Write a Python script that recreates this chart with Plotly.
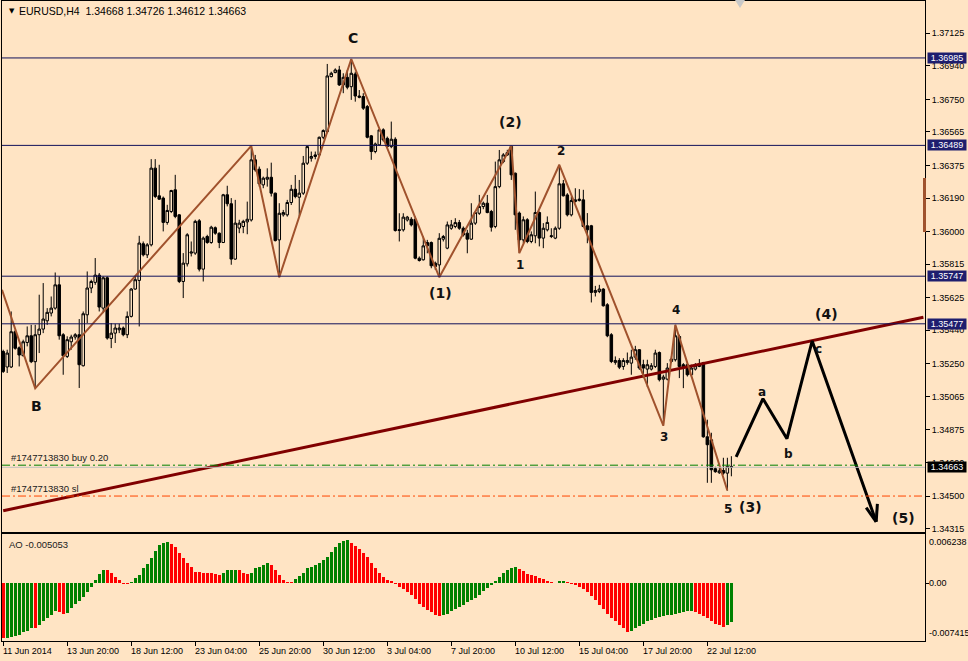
import plotly.graph_objects as go

BG = "#FFE4C4"

# ---------------- data (EURUSD H4) ----------------
open_ = [1.35320,1.35232,1.35232,1.35432,1.35341,1.35296,1.35371,1.35409,1.35262,1.35415,
 1.35447,1.35494,1.35538,1.35566,1.35698,1.35415,1.35292,1.35375,1.35402,1.35415,
 1.35239,1.35528,1.35680,1.35712,1.35753,1.35566,1.35738,1.35394,1.35424,1.35443,
 1.35453,1.35415,1.35519,1.35674,1.35723,1.35931,1.35868,1.35925,1.36360,1.36203,
 1.36190,1.36052,1.36114,1.36237,1.36095,1.35717,1.35817,1.35878,1.35878,1.36061,
 1.35787,1.35972,1.35938,1.36022,1.35991,1.35938,1.36209,1.36158,1.35844,1.36020,
 1.36029,1.36055,1.36066,1.36407,1.36354,1.36265,1.36297,1.36308,1.36218,1.35953,
 1.36095,1.36095,1.36165,1.36240,1.36195,1.36218,1.36388,1.36416,1.36426,1.36435,
 1.36535,1.36567,1.36879,1.36902,1.36917,1.36832,1.36875,1.36822,1.36894,1.36769,
 1.36766,1.36709,1.36543,1.36454,1.36492,1.36577,1.36529,1.36482,1.36524,1.36006,
 1.36010,1.36066,1.36070,1.36070,1.35849,1.35840,1.35938,1.35938,1.35821,1.35811,
 1.35957,1.35906,1.36019,1.36029,1.36051,1.36019,1.35991,1.35957,1.36048,1.36104,
 1.36142,1.36161,1.36114,1.36029,1.36255,1.36397,1.36435,1.36483,1.36331,1.36105,
 1.35953,1.36067,1.35944,1.35976,1.36108,1.35963,1.36010,1.35972,1.35963,1.36019,
 1.36271,1.36208,1.36095,1.36171,1.36176,1.36180,1.36033,1.36033,1.35655,1.35660,
 1.35674,1.35585,1.35415,1.35258,1.35269,1.35235,1.35258,1.35254,1.35288,1.35330,
 1.35245,1.35220,1.35220,1.35235,1.35314,1.35163,1.35163,1.35263,1.35273,1.35405,
 1.35245,1.35245,1.35188,1.35220,1.35235,1.35256,1.34836,1.34819,1.34655,1.34632,
 1.34645,1.34630,1.34668]
high = [1.35330,1.35330,1.35547,1.35443,1.35349,1.35387,1.35462,1.35471,1.35471,1.35642,
 1.35708,1.35566,1.35632,1.35768,1.35746,1.35424,1.35406,1.35415,1.35424,1.35504,
 1.35547,1.35774,1.35727,1.35850,1.35765,1.35746,1.35746,1.35481,1.35477,1.35477,
 1.35462,1.35547,1.35680,1.35746,1.35976,1.35944,1.35935,1.36411,1.36411,1.36379,
 1.36199,1.36152,1.36237,1.36322,1.36099,1.35878,1.35991,1.35944,1.36067,1.36071,
 1.35972,1.35982,1.36033,1.36029,1.35995,1.36214,1.36260,1.36190,1.36180,1.36067,
 1.36067,1.36170,1.36486,1.36435,1.36369,1.36312,1.36359,1.36391,1.36221,1.36161,
 1.36123,1.36180,1.36265,1.36321,1.36293,1.36429,1.36486,1.36454,1.36454,1.36539,
 1.36580,1.36951,1.36907,1.36926,1.36940,1.36898,1.36917,1.36979,1.36907,1.36803,
 1.36785,1.36718,1.36548,1.36505,1.36580,1.36586,1.36539,1.36624,1.36535,1.36104,
 1.36104,1.36089,1.36082,1.36085,1.35859,1.35972,1.35953,1.35944,1.35830,1.35991,
 1.35981,1.36057,1.36066,1.36076,1.36066,1.36029,1.36010,1.36161,1.36114,1.36208,
 1.36170,1.36208,1.36123,1.36397,1.36463,1.36445,1.36464,1.36486,1.36335,1.36114,
 1.36086,1.36076,1.36001,1.36227,1.36114,1.36048,1.36086,1.36019,1.36029,1.36379,
 1.36293,1.36218,1.36199,1.36246,1.36241,1.36237,1.36105,1.36038,1.35692,1.35698,
 1.35679,1.35594,1.35424,1.35292,1.35282,1.35282,1.35314,1.35330,1.35352,1.35333,
 1.35273,1.35273,1.35254,1.35330,1.35320,1.35188,1.35254,1.35292,1.35471,1.35415,
 1.35254,1.35254,1.35245,1.35254,1.35277,1.35261,1.34933,1.34859,1.34666,1.34660,
 1.34717,1.34717,1.34726]
low = [1.35198,1.35198,1.35226,1.35330,1.35235,1.35292,1.35349,1.35254,1.35111,1.35311,
 1.35424,1.35471,1.35519,1.35557,1.35387,1.35188,1.35283,1.35330,1.35387,1.35113,
 1.35235,1.35481,1.35651,1.35698,1.35547,1.35538,1.35387,1.35339,1.35368,1.35424,
 1.35406,1.35396,1.35513,1.35670,1.35462,1.35859,1.35850,1.35916,1.36190,1.36180,
 1.36001,1.36039,1.36105,1.36076,1.35708,1.35623,1.35802,1.35859,1.35868,1.35774,
 1.35717,1.35931,1.35931,1.35982,1.35906,1.35935,1.36143,1.35812,1.35840,1.35991,
 1.35991,1.35985,1.36057,1.36340,1.36255,1.36246,1.36255,1.36199,1.35944,1.35741,
 1.36085,1.36085,1.36151,1.36189,1.36085,1.36208,1.36378,1.36397,1.36410,1.36426,
 1.36524,1.36558,1.36875,1.36898,1.36826,1.36785,1.36807,1.36747,1.36737,1.36756,
 1.36690,1.36529,1.36407,1.36444,1.36486,1.36511,1.36473,1.36473,1.36000,1.35944,
 1.36000,1.36057,1.36029,1.35843,1.35830,1.35836,1.35877,1.35792,1.35783,1.35741,
 1.35944,1.35900,1.36010,1.36019,1.36010,1.35972,1.35877,1.35953,1.36038,1.36095,
 1.36127,1.36104,1.36000,1.36019,1.36246,1.36388,1.36430,1.36293,1.36010,1.35878,
 1.35934,1.35934,1.35934,1.35934,1.35916,1.35906,1.36001,1.35963,1.35957,1.36010,
 1.36199,1.36086,1.36086,1.36165,1.36171,1.36025,1.35934,1.35598,1.35632,1.35651,
 1.35575,1.35401,1.35254,1.35245,1.35220,1.35216,1.35245,1.35188,1.35273,1.35216,
 1.35169,1.35118,1.35212,1.35226,1.35150,1.34899,1.35156,1.35254,1.35263,1.35169,
 1.35112,1.35178,1.35178,1.35212,1.35231,1.34831,1.34575,1.34575,1.34632,1.34626,
 1.34621,1.34531,1.34612]
close = [1.35207,1.35311,1.35432,1.35338,1.35300,1.35375,1.35409,1.35262,1.35415,1.35447,
 1.35504,1.35542,1.35566,1.35698,1.35409,1.35296,1.35387,1.35402,1.35415,1.35245,
 1.35534,1.35680,1.35717,1.35753,1.35572,1.35738,1.35396,1.35424,1.35453,1.35453,
 1.35415,1.35519,1.35674,1.35727,1.35935,1.35868,1.35925,1.36360,1.36199,1.36184,
 1.36052,1.36120,1.36233,1.36086,1.35717,1.35821,1.35982,1.35884,1.36058,1.35787,
 1.35963,1.35938,1.36025,1.35991,1.35938,1.36209,1.36158,1.35844,1.36048,1.36048,
 1.36058,1.36070,1.36407,1.36350,1.36271,1.36303,1.36308,1.36218,1.35949,1.36104,
 1.36108,1.36165,1.36240,1.36199,1.36218,1.36388,1.36482,1.36426,1.36435,1.36535,
 1.36573,1.36883,1.36898,1.36917,1.36832,1.36875,1.36819,1.36898,1.36769,1.36762,
 1.36700,1.36535,1.36454,1.36497,1.36577,1.36520,1.36482,1.36524,1.36006,1.36010,
 1.36082,1.36082,1.36038,1.35849,1.35836,1.35919,1.35919,1.35806,1.35802,1.35962,
 1.35972,1.36038,1.36038,1.36051,1.36019,1.35981,1.35957,1.36048,1.36108,1.36142,
 1.36161,1.36108,1.36025,1.36255,1.36407,1.36435,1.36448,1.36322,1.36095,1.35953,
 1.36067,1.35944,1.35982,1.36108,1.35963,1.36019,1.36052,1.35976,1.36019,1.36271,
 1.36203,1.36095,1.36176,1.36180,1.36184,1.36029,1.36010,1.35655,1.35666,1.35674,
 1.35579,1.35409,1.35263,1.35269,1.35231,1.35269,1.35269,1.35288,1.35330,1.35226,
 1.35226,1.35245,1.35239,1.35311,1.35160,1.35175,1.35226,1.35277,1.35409,1.35235,
 1.35231,1.35188,1.35226,1.35239,1.35245,1.34836,1.34791,1.34649,1.34638,1.34643,
 1.34630,1.34668,1.34663]

# Awesome Oscillator values
ao = [-0.0072,-0.0071,-0.0070,-0.0069,-0.0067,-0.0064,-0.0062,-0.0058,-0.0059,-0.0055,
 -0.0050,-0.0046,-0.0042,-0.0037,-0.0038,-0.0040,-0.0039,-0.0033,-0.0027,-0.0024,
 -0.0018,-0.0012,-0.0005,0.00039,0.00117,0.00169,0.00166,0.00134,0.00082,0.00039,
 -0.00005,-0.00013,0.00004,0.00061,0.00104,0.00191,0.00247,0.00320,0.00420,0.00494,
 0.00515,0.00533,0.00507,0.00463,0.00385,0.00320,0.00264,0.00204,0.00143,0.00142,
 0.00134,0.00126,0.00125,0.00117,0.00104,0.00134,0.00169,0.00170,0.00171,0.00168,
 0.00134,0.00117,0.00134,0.00191,0.00212,0.00234,0.00255,0.00234,0.00169,0.00104,
 0.00039,0.00004,0.00003,0.00048,0.00091,0.00134,0.00191,0.00212,0.00234,0.00264,
 0.00299,0.00342,0.00407,0.00463,0.00515,0.00550,0.00559,0.00524,0.00481,0.00437,
 0.00385,0.00333,0.00264,0.00191,0.00126,0.00074,0.00039,0.00017,-0.00013,-0.00048,
 -0.0008,-0.0012,-0.0016,-0.0021,-0.0027,-0.0031,-0.0035,-0.0038,-0.0041,-0.0043,
 -0.0042,-0.0040,-0.0037,-0.0034,-0.0031,-0.0028,-0.0025,-0.0022,-0.0019,-0.0015,
 -0.0011,-0.0007,-0.0003,0.0002,0.0008,0.0013,0.0017,0.0020,0.0021,0.0018,
 0.0015,0.0012,0.0010,0.0009,0.0007,0.0005,0.0003,0.0001,0.0000,0.0002,
 0.0003,0.0001,-0.0001,-0.0003,-0.0005,-0.0008,-0.0012,-0.0017,-0.0022,-0.0028,
 -0.0034,-0.0040,-0.0045,-0.0050,-0.0054,-0.0058,-0.0064,-0.0062,-0.0059,-0.0056,
 -0.0053,-0.0050,-0.0048,-0.0046,-0.0044,-0.0043,-0.0042,-0.0041,-0.0040,-0.0039,
 -0.0038,-0.0037,-0.0036,-0.0038,-0.0040,-0.0043,-0.0046,-0.0050,-0.0053,-0.0055,
 -0.0057,-0.0054,-0.005053]

time_labels = ["11 Jun 2014", "13 Jun 20:00", "18 Jun 12:00", "23 Jun 04:00", "25 Jun 20:00",
               "30 Jun 12:00", "3 Jul 04:00", "7 Jul 20:00", "10 Jul 12:00", "15 Jul 04:00",
               "17 Jul 20:00", "22 Jul 12:00"]
time_label_idx = [0, 16, 32, 48, 64, 80, 96, 112, 128, 144, 160, 176]

price_ticks = [1.37125, 1.36940, 1.36750, 1.36565, 1.36375, 1.36190, 1.36000, 1.35815,
               1.35625, 1.35440, 1.35250, 1.35065, 1.34875, 1.34690, 1.34500, 1.34315]

levels = [1.36985, 1.36489, 1.35747, 1.35477]
bid = 1.34663
buy_price = 1.34675
sl_price = 1.34500

# zigzag pivots (bar index, H/L)
zz_start = (-0.3, 1.35670)
zz_idx = [8, 62, 69, 87, 109, 127, 129, 139, 165, 168, 181]
zz_kind = ["L", "H", "L", "H", "L", "H", "L", "H", "L", "H", "L"]

# trendline anchors
trend_i = [0, 230]
trend_p = [1.34417, 1.35514]

# projected wave path (4)/(5)
proj_i = [183.2, 189.9, 195.9, 202.2, 218.2]
proj_p = [1.34722, 1.35052, 1.34825, 1.35380, 1.34354]
arrow_l = ([215.7, 218.2], [1.34434, 1.34354])
arrow_r = ([218.5, 218.2], [1.34456, 1.34354])

# wave labels: text, bar index, price, size
wave_labels = [
    ("C", 87.4, 1.37099, 14), ("B", 8.2, 1.35012, 14), ("(1)", 109.2, 1.35653, 14),
    ("(2)", 126.9, 1.36622, 14), ("1", 129.2, 1.35811, 12), ("2", 139.4, 1.36458, 12),
    ("3", 165.2, 1.34836, 12), ("4", 168.2, 1.35556, 12), ("5", 181.2, 1.34428, 12),
    ("(3)", 186.7, 1.34439, 14), ("(4)", 205.7, 1.35534, 14), ("a", 189.7, 1.35091, 12),
    ("b", 196.4, 1.34740, 12), ("c", 203.9, 1.35335, 12), ("(5)", 224.9, 1.34377, 14),
]

# ---------------- figure ----------------
W, H = 968, 661
ML, MR, MT, MB = 2, 43, 1, 20
PW, PH = W - ML - MR, H - MT - MB


def pxx(px):
    return (px - ML) / PW


def pxy(py):
    return (H - MB - py) / PH


idx = list(range(len(close)))
fig = go.Figure()

fig.add_trace(go.Candlestick(
    x=idx, open=open_, high=high, low=low, close=close,
    increasing=dict(line=dict(color="black", width=1), fillcolor=BG),
    decreasing=dict(line=dict(color="black", width=1), fillcolor="black"),
    whiskerwidth=0, xaxis="x", yaxis="y", hoverinfo="skip", showlegend=False))

fig.add_trace(go.Scatter(x=trend_i, y=trend_p, mode="lines", line=dict(color="#800000", width=3),
                         xaxis="x", yaxis="y", hoverinfo="skip", showlegend=False))

zz_x = [zz_start[0]] + zz_idx
zz_y = [zz_start[1]] + [low[i] if k == "L" else high[i] for i, k in zip(zz_idx, zz_kind)]
fig.add_trace(go.Scatter(x=zz_x, y=zz_y, mode="lines", line=dict(color="#A0522D", width=2),
                         xaxis="x", yaxis="y", hoverinfo="skip", showlegend=False))

for xs, ys in [(proj_i, proj_p), arrow_l, arrow_r]:
    fig.add_trace(go.Scatter(x=xs, y=ys, mode="lines", line=dict(color="black", width=3),
                             xaxis="x", yaxis="y", hoverinfo="skip", showlegend=False))

ao_colors = ["#FF0000"] + ["#008000" if ao[i] > ao[i - 1] else "#FF0000" for i in range(1, len(ao))]
fig.add_trace(go.Bar(x=idx, y=ao, marker=dict(color=ao_colors, line=dict(width=0)), width=0.72,
                     xaxis="x2", yaxis="y2", hoverinfo="skip", showlegend=False))

xr = [-0.3, 230.4]
font_small = dict(family="Liberation Sans, Arial, sans-serif", size=9, color="black")

shapes = []
for lv in levels:
    shapes.append(dict(type="line", xref="paper", x0=0, x1=1, yref="y", y0=lv, y1=lv,
                       line=dict(color="#10105A", width=1)))
shapes.append(dict(type="line", xref="paper", x0=0, x1=1, yref="y", y0=bid, y1=bid,
                   line=dict(color="#C0C0C0", width=1)))
shapes.append(dict(type="line", xref="paper", x0=0, x1=1, yref="y", y0=buy_price, y1=buy_price,
                   line=dict(color="#008000", width=1, dash="8px,3px,2px,3px")))
shapes.append(dict(type="line", xref="paper", x0=0, x1=1, yref="y", y0=sl_price, y1=sl_price,
                   line=dict(color="#FF4500", width=1, dash="8px,3px,2px,3px")))
# brown marker at right edge
shapes.append(dict(type="rect", xref="paper", x0=pxx(923), x1=pxx(926), yref="paper",
                   y0=pxy(232), y1=pxy(178), fillcolor="#A0522D", line=dict(width=0)))
# chart shift triangle
shapes.append(dict(type="path", xref="paper", yref="paper",
                   path=f"M {pxx(735)} {pxy(0)} L {pxx(745)} {pxy(0)} L {pxx(740)} {pxy(8)} Z",
                   fillcolor="#C8C8C8", line=dict(width=0)))

ann = []
ann.append(dict(xref="paper", yref="paper", x=pxx(7), y=pxy(11), xanchor="left", yanchor="middle",
                text="▼", showarrow=False, font=dict(family="DejaVu Sans", size=7, color="black")))
ann.append(dict(xref="paper", yref="paper", x=pxx(17), y=pxy(11), xanchor="left", yanchor="middle",
                text="EURUSD,H4  1.34668 1.34726 1.34612 1.34663", showarrow=False,
                font=dict(family="Liberation Sans, Arial", size=10.5, color="black")))

for t, xi, yp, sz in wave_labels:
    ann.append(dict(xref="x", yref="y", x=xi, y=yp, text=t, showarrow=False,
                    font=dict(family="DejaVu Sans, Verdana", size=sz, color="#111111", weight="bold"),
                    xanchor="center", yanchor="middle"))

ann.append(dict(xref="paper", yref="y", x=pxx(9), y=buy_price, xanchor="left", yanchor="bottom",
                text="#1747713830 buy 0.20", showarrow=False, font=dict(family="Liberation Sans", size=9.5, color="#202020")))
ann.append(dict(xref="paper", yref="y", x=pxx(9), y=sl_price, xanchor="left", yanchor="bottom",
                text="#1747713830 sl", showarrow=False, font=dict(family="Liberation Sans", size=9.5, color="#202020")))

for lv in levels:
    ann.append(dict(xref="paper", yref="y", x=1, y=lv, xanchor="left", yanchor="middle", xshift=2,
                    text=f"{lv:.5f}", showarrow=False, bgcolor="#1E1E6E", width=38, height=10,
                    borderpad=0, align="center", font=dict(family="Liberation Sans", size=9, color="white")))
ann.append(dict(xref="paper", yref="y", x=1, y=bid, xanchor="left", yanchor="middle", xshift=2,
                text=f"{bid:.5f}", showarrow=False, bgcolor="black", width=38, height=10,
                borderpad=0, align="center", font=dict(family="Liberation Sans", size=9, color="white")))

ann.append(dict(xref="paper", yref="paper", x=pxx(7), y=pxy(544), xanchor="left", yanchor="middle",
                text=f"AO {ao[-1]:.6f}", showarrow=False, font=dict(family="Liberation Sans", size=9.5, color="#202020")))
for txt, py in [("0.006238", 542), ("0.00", 583), ("-0.007415", 633)]:
    ann.append(dict(xref="paper", yref="paper", x=pxx(927), y=pxy(py), xanchor="left", yanchor="middle",
                    text=txt, showarrow=False, font=font_small))

for lab, ti in zip(time_labels, time_label_idx):
    ann.append(dict(xref="x2", yref="paper", x=ti, y=0, xanchor="left", yanchor="top", yshift=-3, xshift=-2,
                    text=lab, showarrow=False, font=font_small))

fig.update_layout(
    width=W, height=H, margin=dict(l=ML, r=MR, t=MT, b=MB),
    paper_bgcolor=BG, plot_bgcolor=BG, showlegend=False, bargap=0, boxgap=0.1,
    xaxis=dict(domain=[0, 1], range=xr, anchor="y", showticklabels=False, ticks="",
               showline=True, mirror=True, linecolor="black", linewidth=1,
               showgrid=False, zeroline=False, rangeslider=dict(visible=False), fixedrange=True),
    yaxis=dict(domain=[pxy(532), 1], range=[1.34296, 1.37308], side="right",
               tickvals=price_ticks, ticktext=[f"{v:.5f}" for v in price_ticks],
               ticks="outside", ticklen=4, tickcolor="black", tickfont=font_small,
               showline=True, mirror=True, linecolor="black", linewidth=1,
               showgrid=False, zeroline=False),
    xaxis2=dict(domain=[0, 1], range=xr, anchor="y2", tickvals=time_label_idx,
                ticks="outside", ticklen=4, tickcolor="black", showticklabels=False,
                showline=True, mirror=True, linecolor="black", linewidth=1,
                showgrid=False, zeroline=False),
    yaxis2=dict(domain=[0, pxy(534)], range=[-0.00754, 0.00637], side="right",
                tickvals=[0], ticks="outside", ticklen=3, tickcolor="black", showticklabels=False,
                showline=True, mirror=True, linecolor="black", linewidth=1,
                showgrid=False, zeroline=False),
    shapes=shapes, annotations=ann,
)

fig.write_html("out.html", config={"displayModeBar": False},
               post_script="document.body.style.margin='0';")
